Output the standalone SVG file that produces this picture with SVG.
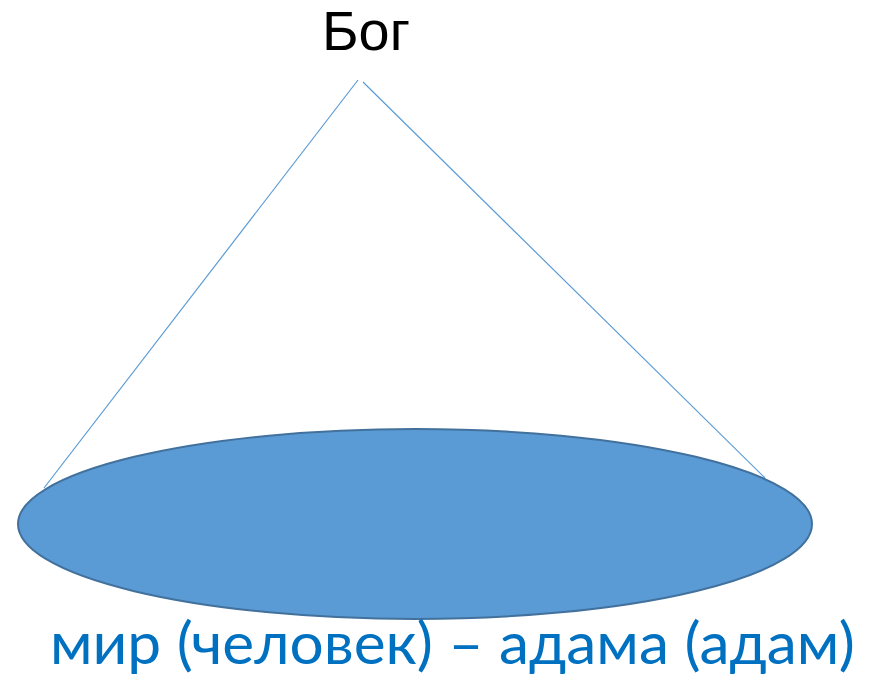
<svg xmlns="http://www.w3.org/2000/svg" width="871" height="678" viewBox="0 0 871 678">
<style>
.conn{stroke:#5B9BD5;stroke-width:1.2;fill:none}
.g{font-family:"Liberation Sans",Arial,sans-serif}
.t{font-family:Lato,"Open Sans",sans-serif}
</style>
<rect width="871" height="678" fill="#fff"/>
<g id="connectors">
<line class="conn" x1="358" y1="80" x2="44" y2="488"/>
<line class="conn" x1="363" y1="82" x2="765" y2="478"/>
</g>
<g id="god">
<text class="g" x="366" y="50" font-size="55" text-anchor="middle" fill="#000" textLength="88" lengthAdjust="spacingAndGlyphs">Бог</text>
</g>
<g id="world">
<ellipse cx="415" cy="524" rx="397" ry="95" fill="#5B9BD5" stroke="#41719C" stroke-width="2"/>
</g>
<g id="label">
<text class="t" x="50" y="664" font-size="58" fill="#0070C0" textLength="805" lengthAdjust="spacingAndGlyphs">мир (человек) – адама (адам)</text>
</g>
</svg>
